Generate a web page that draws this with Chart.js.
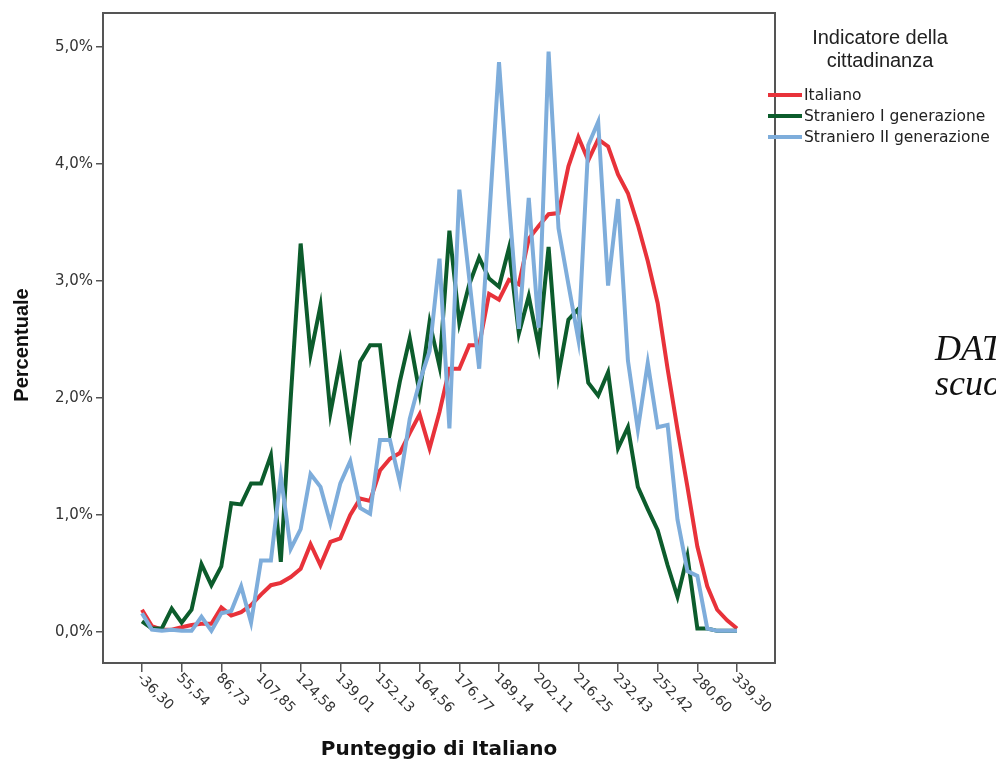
<!DOCTYPE html>
<html>
<head>
<meta charset="utf-8">
<script src="https://cdn.jsdelivr.net/npm/chart.js@4.4.1/dist/chart.umd.min.js"></script>
<style>
  html, body { margin: 0; padding: 0; background: #fff; }
</style>
</head>
<body>
<canvas id="grafico" width="996" height="766"></canvas>
<script>
// =============== DATI ===============
// etichette mostrate sull'asse x (una ogni 4 categorie)
const tickIdx = [0, 4, 8, 12, 16, 20, 24, 28, 32, 36, 40, 44, 48, 52, 56, 60];
const tickLabels = ['-36,30', '55,54', '86,73', '107,85', '124,58', '139,01', '152,13', '164,56',
                    '176,77', '189,14', '202,11', '216,25', '232,43', '252,42', '280,60', '339,30'];
const yTicks = [0, 1, 2, 3, 4, 5];

const seriesNames = ['Italiano', 'Straniero I generazione', 'Straniero II generazione'];
const seriesColors = ['#e8323a', '#0c5c2c', '#7eaddb'];

// percentuali per categoria di punteggio (61 categorie)
const italiano = [
  0.19, 0.05, 0.02, 0.02, 0.04, 0.06, 0.07, 0.07, 0.21, 0.14,
  0.17, 0.23, 0.32, 0.40, 0.42, 0.47, 0.54, 0.75, 0.57, 0.77,
  0.80, 1.00, 1.14, 1.12, 1.38, 1.48, 1.53, 1.70, 1.86, 1.57,
  1.88, 2.25, 2.25, 2.45, 2.45, 2.89, 2.84, 3.01, 2.97, 3.36,
  3.47, 3.57, 3.58, 3.98, 4.23, 4.03, 4.21, 4.15, 3.91, 3.75,
  3.48, 3.17, 2.81, 2.25, 1.73, 1.24, 0.73, 0.39, 0.19, 0.10,
  0.03
];
const stranieroI = [
  0.09, 0.03, 0.03, 0.20, 0.08, 0.19, 0.58, 0.40, 0.56, 1.10,
  1.09, 1.27, 1.27, 1.51, 0.60, 2.00, 3.32, 2.37, 2.79, 1.87,
  2.32, 1.71, 2.31, 2.45, 2.45, 1.70, 2.14, 2.51, 2.04, 2.65,
  2.27, 3.43, 2.64, 2.97, 3.20, 3.02, 2.95, 3.28, 2.55, 2.87,
  2.44, 3.29, 2.20, 2.67, 2.76, 2.13, 2.02, 2.22, 1.57, 1.75,
  1.24, 1.05, 0.87, 0.57, 0.30, 0.65, 0.03, 0.03, 0.01, 0.01,
  0.01
];
const stranieroII = [
  0.16, 0.02, 0.01, 0.02, 0.01, 0.01, 0.13, 0.01, 0.16, 0.18,
  0.39, 0.08, 0.61, 0.61, 1.33, 0.71, 0.88, 1.35, 1.24, 0.93,
  1.27, 1.46, 1.06, 1.01, 1.64, 1.64, 1.28, 1.82, 2.14, 2.40,
  3.19, 1.74, 3.78, 3.02, 2.25, 3.52, 4.87, 3.68, 2.59, 3.71,
  2.60, 4.96, 3.45, 2.97, 2.50, 4.16, 4.36, 2.96, 3.70, 2.32,
  1.73, 2.30, 1.75, 1.77, 0.96, 0.52, 0.48, 0.03, 0.01, 0.01,
  0.01
];

const serie = [italiano, stranieroI, stranieroII];

// =============== PLUGIN: cornice, etichette, legenda ===============
const cornice = {
  id: 'cornice',
  beforeDatasetsDraw(chart) {
    const { ctx, chartArea: a } = chart;
    ctx.save();
    ctx.strokeStyle = '#555';
    ctx.lineWidth = 2;
    ctx.strokeRect(a.left, a.top, a.right - a.left, a.bottom - a.top);
    ctx.restore();
  }
};

const testi = {
  id: 'testi',
  afterDraw(chart) {
    const { ctx, chartArea: a } = chart;
    const x = chart.scales.x;
    ctx.save();

    // etichette asse x ruotate (scendono verso destra)
    ctx.fillStyle = '#333';
    ctx.font = '14px "DejaVu Sans"';
    ctx.textAlign = 'left';
    ctx.textBaseline = 'middle';
    tickIdx.forEach((v, k) => {
      const px = x.getPixelForValue(v);
      ctx.save();
      ctx.translate(px - 3, a.bottom + 13);
      ctx.rotate(Math.PI / 4);
      ctx.fillText(tickLabels[k], 0, 0);
      ctx.restore();
    });

    // titoli degli assi
    ctx.fillStyle = '#111';
    ctx.font = 'bold 20px "DejaVu Sans"';
    ctx.textAlign = 'center';
    ctx.fillText('Punteggio di Italiano', (a.left + a.right) / 2, 750);

    ctx.save();
    ctx.translate(22, 345);
    ctx.rotate(-Math.PI / 2);
    ctx.font = 'bold 20px "Liberation Sans"';
    ctx.fillText('Percentuale', 0, 0);
    ctx.restore();

    // legenda
    ctx.fillStyle = '#222';
    ctx.font = '20px "Liberation Sans"';
    ctx.fillText('Indicatore della', 880, 38);
    ctx.fillText('cittadinanza', 880, 61);

    ctx.textAlign = 'left';
    ctx.font = '15.5px "DejaVu Sans"';
    seriesNames.forEach((nome, k) => {
      const y = 95 + k * 21;
      ctx.strokeStyle = seriesColors[k];
      ctx.lineWidth = 4;
      ctx.beginPath();
      ctx.moveTo(768, y);
      ctx.lineTo(802, y);
      ctx.stroke();
      ctx.fillStyle = '#222';
      ctx.fillText(nome, 804, y + 1);
    });

    // testo del documento tagliato a destra
    ctx.fillStyle = '#111';
    ctx.font = 'italic 36px "Liberation Serif"';
    ctx.textBaseline = 'alphabetic';
    ctx.fillText('DAT', 935, 360);
    ctx.fillText('scuo', 935, 395);

    ctx.restore();
  }
};

// =============== GRAFICO ===============
const datasets = serie.map((valori, k) => ({
  label: seriesNames[k],
  data: valori.map((v, i) => ({ x: i, y: v })),
  borderColor: seriesColors[k],
  borderWidth: 4,
  pointRadius: 0,
  tension: 0,
  fill: false,
  borderJoinStyle: 'miter',
  order: 2 - k
}));

new Chart(document.getElementById('grafico'), {
  type: 'line',
  data: { datasets: datasets },
  options: {
    responsive: false,
    animation: false,
    layout: { padding: { top: 13, right: 221, left: 0, bottom: 0 } },
    plugins: {
      legend: { display: false },
      tooltip: { enabled: false }
    },
    scales: {
      x: {
        type: 'linear',
        min: -3.93,
        max: 63.83,
        afterBuildTicks: (scale) => { scale.ticks = tickIdx.map(v => ({ value: v })); },
        afterFit: (scale) => { scale.height = 103; },
        ticks: { display: false, autoSkip: false },
        grid: { drawOnChartArea: false, drawTicks: true, tickLength: 9, color: '#555', lineWidth: 1.5 },
        border: { display: false }
      },
      y: {
        min: -0.265,
        max: 5.29,
        afterBuildTicks: (scale) => { scale.ticks = yTicks.map(v => ({ value: v })); },
        afterFit: (scale) => { scale.width = 103; },
        ticks: {
          autoSkip: false,
          padding: 3,
          color: '#333',
          font: { family: 'DejaVu Sans', size: 15 },
          callback: (v) => v.toFixed(1).replace('.', ',') + '%'
        },
        grid: { drawOnChartArea: false, drawTicks: true, tickLength: 7, color: '#555', lineWidth: 1.5 },
        border: { display: false }
      }
    }
  },
  plugins: [cornice, testi]
});
</script>
</body>
</html>
